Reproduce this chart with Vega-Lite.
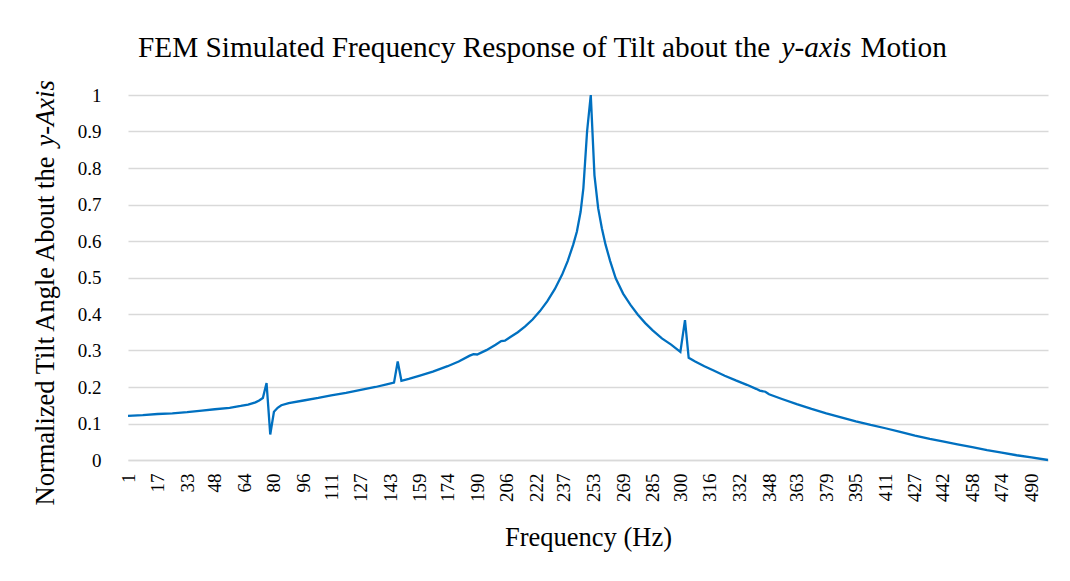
{
  "$schema": "https://vega.github.io/schema/vega-lite/v6.json",
  "width": 920,
  "height": 365,
  "autosize": {"type": "none"},
  "padding": {"left": 128, "top": 95, "right": 22, "bottom": 121},
  "background": "white",
  "title": {
    "text": "FEM Simulated Frequency Response of Tilt about the",
    "anchor": "start",
    "frame": "group",
    "dx": 10,
    "dy": 92,
    "offset": 39,
    "baseline": "alphabetic",
    "font": "Liberation Serif",
    "fontSize": 29.3,
    "fontWeight": "normal",
    "color": "#000000"
  },
  "config": {
    "view": {"stroke": null},
    "font": "Liberation Serif"
  },
  "data": {
    "values": [
      {"f": 1, "v": 0.121}, {"f": 9, "v": 0.123}, {"f": 17, "v": 0.126}, {"f": 25, "v": 0.128},
      {"f": 33, "v": 0.131}, {"f": 41, "v": 0.135}, {"f": 48, "v": 0.139}, {"f": 56, "v": 0.143},
      {"f": 62, "v": 0.148}, {"f": 66, "v": 0.152}, {"f": 70, "v": 0.158}, {"f": 72, "v": 0.163},
      {"f": 74, "v": 0.170}, {"f": 76, "v": 0.211}, {"f": 78, "v": 0.070}, {"f": 80, "v": 0.132},
      {"f": 82, "v": 0.143}, {"f": 84, "v": 0.150}, {"f": 88, "v": 0.156}, {"f": 96, "v": 0.163},
      {"f": 104, "v": 0.170}, {"f": 111, "v": 0.177}, {"f": 119, "v": 0.184}, {"f": 127, "v": 0.192},
      {"f": 135, "v": 0.200}, {"f": 141, "v": 0.207}, {"f": 145, "v": 0.212}, {"f": 147, "v": 0.270},
      {"f": 149, "v": 0.217}, {"f": 153, "v": 0.222}, {"f": 159, "v": 0.231}, {"f": 166, "v": 0.242},
      {"f": 174, "v": 0.257}, {"f": 180, "v": 0.270}, {"f": 186, "v": 0.286}, {"f": 188, "v": 0.290},
      {"f": 190, "v": 0.289}, {"f": 195, "v": 0.301}, {"f": 200, "v": 0.316}, {"f": 203, "v": 0.326},
      {"f": 205, "v": 0.327}, {"f": 208, "v": 0.337}, {"f": 212, "v": 0.350}, {"f": 216, "v": 0.366},
      {"f": 220, "v": 0.385}, {"f": 224, "v": 0.408}, {"f": 228, "v": 0.435}, {"f": 232, "v": 0.468},
      {"f": 236, "v": 0.508}, {"f": 239, "v": 0.545}, {"f": 242, "v": 0.590}, {"f": 244, "v": 0.626},
      {"f": 246, "v": 0.680}, {"f": 247.5, "v": 0.745}, {"f": 249.5, "v": 0.900}, {"f": 251.5, "v": 1.0},
      {"f": 253.5, "v": 0.780}, {"f": 255.5, "v": 0.690}, {"f": 257.5, "v": 0.635}, {"f": 259.5, "v": 0.590},
      {"f": 262, "v": 0.545}, {"f": 265, "v": 0.498}, {"f": 269, "v": 0.456}, {"f": 273, "v": 0.425},
      {"f": 277, "v": 0.398}, {"f": 281, "v": 0.375}, {"f": 285, "v": 0.355}, {"f": 290, "v": 0.333},
      {"f": 295, "v": 0.316}, {"f": 300, "v": 0.296}, {"f": 302.5, "v": 0.383}, {"f": 304.5, "v": 0.280},
      {"f": 308, "v": 0.270}, {"f": 313, "v": 0.257}, {"f": 318, "v": 0.245}, {"f": 324, "v": 0.231},
      {"f": 330, "v": 0.218}, {"f": 336, "v": 0.206}, {"f": 341, "v": 0.195}, {"f": 343, "v": 0.190},
      {"f": 346, "v": 0.187}, {"f": 348, "v": 0.180}, {"f": 355, "v": 0.167}, {"f": 363, "v": 0.153},
      {"f": 371, "v": 0.140}, {"f": 379, "v": 0.128}, {"f": 387, "v": 0.117}, {"f": 395, "v": 0.106},
      {"f": 403, "v": 0.096}, {"f": 411, "v": 0.087}, {"f": 419, "v": 0.077}, {"f": 427, "v": 0.067},
      {"f": 435, "v": 0.058}, {"f": 442, "v": 0.051}, {"f": 450, "v": 0.043}, {"f": 458, "v": 0.035},
      {"f": 466, "v": 0.027}, {"f": 474, "v": 0.020}, {"f": 482, "v": 0.013}, {"f": 490, "v": 0.007},
      {"f": 499, "v": 0.0}
    ]
  },
  "resolve": {"axis": {"x": "independent", "y": "independent"}},
  "layer": [
    {
      "mark": {"type": "line", "color": "#0070C0", "strokeWidth": 2.3, "clip": false},
      "encoding": {
        "x": {
          "field": "f",
          "type": "quantitative",
          "scale": {"domain": [1, 499], "nice": false, "zero": false},
          "axis": {
            "orient": "bottom",
            "title": "Frequency (Hz)",
            "titleFont": "Liberation Serif",
            "titleFontSize": 26.5,
            "titleFontWeight": "normal",
            "titleColor": "#000000",
            "titleX": 460,
            "titleY": 77,
            "titleAlign": "center",
            "titleBaseline": "middle",
            "values": [1, 17, 33, 48, 64, 80, 96, 111, 127, 143, 159, 174, 190, 206, 222, 237, 253, 269, 285, 300, 316, 332, 348, 363, 379, 395, 411, 427, 442, 458, 474, 490],
            "format": "d",
            "labelAngle": 270,
            "labelFont": "Liberation Serif",
            "labelFontSize": 19,
            "labelColor": "#000000",
            "labelPadding": 13,
            "labelOverlap": false,
            "labelFlush": false,
            "labelBound": false,
            "ticks": false,
            "tickSize": 0,
            "grid": false,
            "domain": true,
            "domainColor": "#D9D9D9",
            "domainWidth": 1.5
          }
        },
        "y": {
          "field": "v",
          "type": "quantitative",
          "scale": {"domain": [0, 1], "nice": false},
          "axis": {
            "orient": "left",
            "title": "Normalized Tilt Angle About the",
            "titleFont": "Liberation Serif",
            "titleFontSize": 26.5,
            "titleFontWeight": "normal",
            "titleColor": "#000000",
            "titleX": -83,
            "titleY": 410,
            "titleAngle": 270,
            "titleAlign": "left",
            "titleBaseline": "middle",
            "values": [0, 0.1, 0.2, 0.3, 0.4, 0.5, 0.6, 0.7, 0.8, 0.9, 1],
            "format": "~g",
            "labelFont": "Liberation Serif",
            "labelFontSize": 19,
            "labelColor": "#000000",
            "labelPadding": 27,
            "ticks": false,
            "tickSize": 0,
            "domain": false,
            "grid": true,
            "gridColor": "#D9D9D9",
            "gridWidth": 1.5
          }
        }
      }
    },
    {
      "mark": {"type": "point", "opacity": 0, "size": 0},
      "encoding": {
        "x": {
          "field": "f",
          "type": "quantitative",
          "axis": {
            "orient": "top",
            "title": "y-axis",
            "titleFont": "Liberation Serif",
            "titleFontSize": 29.3,
            "titleFontWeight": "normal",
            "titleFontStyle": "italic",
            "titleColor": "#000000",
            "titleX": 653,
            "titleY": -39,
            "titleAlign": "left",
            "titleBaseline": "alphabetic",
            "labels": false,
            "ticks": false,
            "domain": false,
            "grid": false
          }
        },
        "y": {
          "field": "v",
          "type": "quantitative",
          "axis": {
            "orient": "left",
            "title": "y-Axis",
            "titleFont": "Liberation Serif",
            "titleFontSize": 26.5,
            "titleFontWeight": "normal",
            "titleFontStyle": "italic",
            "titleColor": "#000000",
            "titleX": -83,
            "titleY": 51,
            "titleAngle": 270,
            "titleAlign": "left",
            "titleBaseline": "middle",
            "labels": false,
            "ticks": false,
            "domain": false,
            "grid": false
          }
        }
      }
    },
    {
      "mark": {"type": "point", "opacity": 0, "size": 0},
      "encoding": {
        "x": {"field": "f", "type": "quantitative", "axis": null},
        "y": {
          "field": "v",
          "type": "quantitative",
          "axis": {
            "orient": "right",
            "title": "Motion",
            "titleFont": "Liberation Serif",
            "titleFontSize": 29.3,
            "titleFontWeight": "normal",
            "titleColor": "#000000",
            "titleX": -188,
            "titleY": -39,
            "titleAngle": 0,
            "titleAlign": "left",
            "titleBaseline": "alphabetic",
            "labels": false,
            "ticks": false,
            "domain": false,
            "grid": false
          }
        }
      }
    }
  ]
}
